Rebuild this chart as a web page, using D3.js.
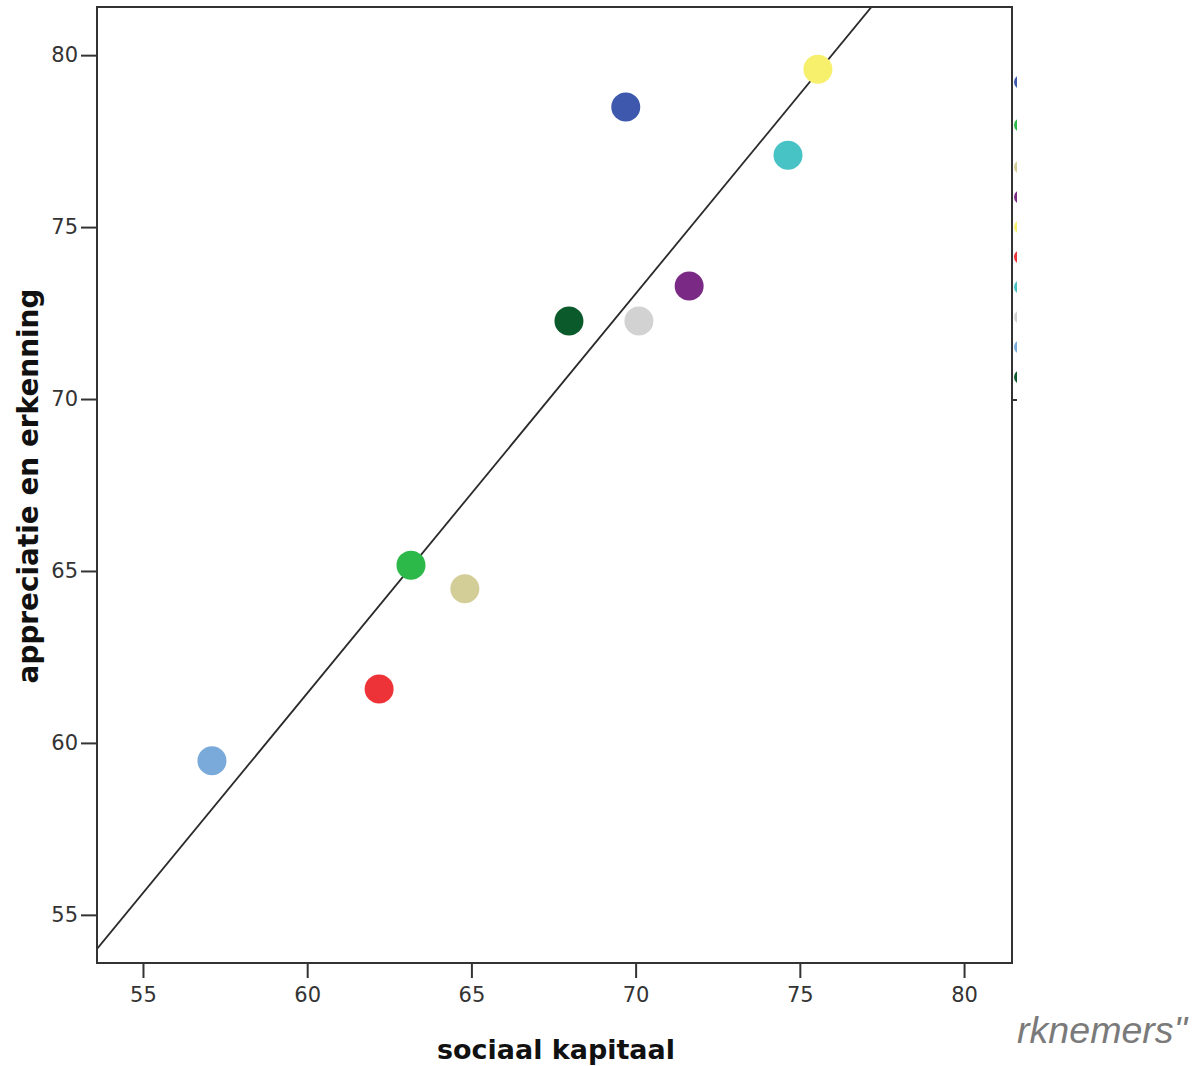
<!DOCTYPE html>
<html>
<head>
<meta charset="utf-8">
<script src="https://cdn.jsdelivr.net/npm/d3@7"></script>
<style>
  html, body { margin: 0; padding: 0; background: #fff; }
  svg { display: block; }
</style>
</head>
<body>
<svg id="chart" width="1192" height="1066"></svg>
<script>
// ---- data ----
const groups = ["g1", "g2", "g3", "g4", "g5", "g6", "g7", "g8", "g9", "g10"];
const sociaalKapitaal = [57.1, 62.19, 63.16, 64.8, 67.97, 70.10, 71.63, 69.7, 74.64, 75.55];
const appreciatie    = [59.48, 61.57, 65.17, 64.48, 72.27, 72.27, 73.29, 78.49, 77.09, 79.59];
const groupColors = ["#7aaada", "#ee3338", "#2db84a", "#d3cd97", "#0b5a2c", "#d2d2d2", "#7a2a84", "#3d58ad", "#47c3c5", "#f7f06d"];
const legendOrder = ["g8", "g3", "g4", "g7", "g10", "g2", "g9", "g6", "g1", "g5"];
const xTicks = [55, 60, 65, 70, 75, 80];
const yTicks = [55, 60, 65, 70, 75, 80];
const xTitle = "sociaal kapitaal";
const yTitle = "appreciatie en erkenning";
const footText = "rknemers\"";

// ---- layout ----
const svg = d3.select("#chart");
const L = 97, R = 1012, T = 7, B = 963;
const x = d3.scaleLinear().domain([53.6, 81.46]).range([L, R]);
const y = d3.scaleLinear().domain([53.6, 81.4]).range([B, T]);
const color = d3.scaleOrdinal().domain(groups).range(groupColors);

const pts = groups.map((g, i) => ({ g, x: sociaalKapitaal[i], y: appreciatie[i] }));

// regression fit line (OLS)
const mx = d3.mean(pts, d => d.x), my = d3.mean(pts, d => d.y);
const slope = d3.sum(pts, d => (d.x - mx) * (d.y - my)) / d3.sum(pts, d => (d.x - mx) ** 2);
const icpt = my - slope * mx;

svg.append("defs").append("clipPath").attr("id", "plotclip")
  .append("rect").attr("x", L).attr("y", T).attr("width", R - L).attr("height", B - T);

const fx0 = x.domain()[0], fx1 = x.domain()[1];
svg.append("line")
  .attr("clip-path", "url(#plotclip)")
  .attr("x1", x(fx0)).attr("y1", y(icpt + slope * fx0))
  .attr("x2", x(fx1)).attr("y2", y(icpt + slope * fx1))
  .attr("stroke", "#2a2a2a").attr("stroke-width", 1.8);

// points
svg.append("g").selectAll("circle").data(pts).join("circle")
  .attr("cx", d => x(d.x)).attr("cy", d => y(d.y)).attr("r", 14.5)
  .attr("fill", d => color(d.g));

// frame
svg.append("rect").attr("x", L).attr("y", T).attr("width", R - L).attr("height", B - T)
  .attr("fill", "none").attr("stroke", "#333").attr("stroke-width", 2);

// axes
const xAxis = d3.axisBottom(x).tickValues(xTicks).tickSize(15).tickPadding(9).tickFormat(d3.format("d"));
const yAxis = d3.axisLeft(y).tickValues(yTicks).tickSize(16).tickPadding(3).tickFormat(d3.format("d"));

const gx = svg.append("g").attr("transform", `translate(0,${B})`).call(xAxis);
const gy = svg.append("g").attr("transform", `translate(${L},0)`).call(yAxis);
[gx, gy].forEach(g => {
  g.select(".domain").remove();
  g.selectAll(".tick line").attr("stroke", "#333").attr("stroke-width", 2);
  g.selectAll(".tick text").attr("fill", "#333")
    .style("font-family", "'DejaVu Sans', sans-serif").style("font-size", "21px");
});

// axis titles, sized to the reference widths
function fitText(sel, targetWidth) {
  const fs = parseFloat(sel.style("font-size"));
  const w = sel.node().getComputedTextLength();
  sel.style("font-size", (fs * targetWidth / w).toFixed(2) + "px");
}
const xt = svg.append("text").attr("x", 556).attr("y", 1059).attr("text-anchor", "middle")
  .style("font-family", "'DejaVu Sans', sans-serif").style("font-weight", "bold")
  .style("font-size", "27px").attr("fill", "#111").text(xTitle);
fitText(xt, 238);

const yt = svg.append("text").attr("transform", "translate(38,486) rotate(-90)").attr("text-anchor", "middle")
  .style("font-family", "'DejaVu Sans', sans-serif").style("font-weight", "bold")
  .style("font-size", "27px").attr("fill", "#111").text(yTitle);
fitText(yt, 395);

// clipped legend strip on the right
const legY = d3.scaleOrdinal().domain(legendOrder).range([82, 125, 167, 197, 227, 257, 287, 317, 347, 377]);
svg.append("defs").append("clipPath").attr("id", "legclip")
  .append("rect").attr("x", R).attr("y", 0).attr("width", 5).attr("height", 420);
svg.append("g").attr("clip-path", "url(#legclip)").selectAll("circle").data(legendOrder).join("circle")
  .attr("cx", R + 9).attr("cy", d => legY(d)).attr("r", 7)
  .attr("fill", d => color(d));
svg.append("line").attr("x1", R).attr("x2", R + 5).attr("y1", 400).attr("y2", 400)
  .attr("stroke", "#333").attr("stroke-width", 2);

// footer fragment
const ft = svg.append("text").attr("x", 1187).attr("y", 1043).attr("text-anchor", "end")
  .style("font-family", "'Liberation Sans', Arial, sans-serif").style("font-style", "italic")
  .style("font-size", "36px").attr("fill", "#7a7a7a").text(footText);
fitText(ft, 170);
</script>
</body>
</html>
